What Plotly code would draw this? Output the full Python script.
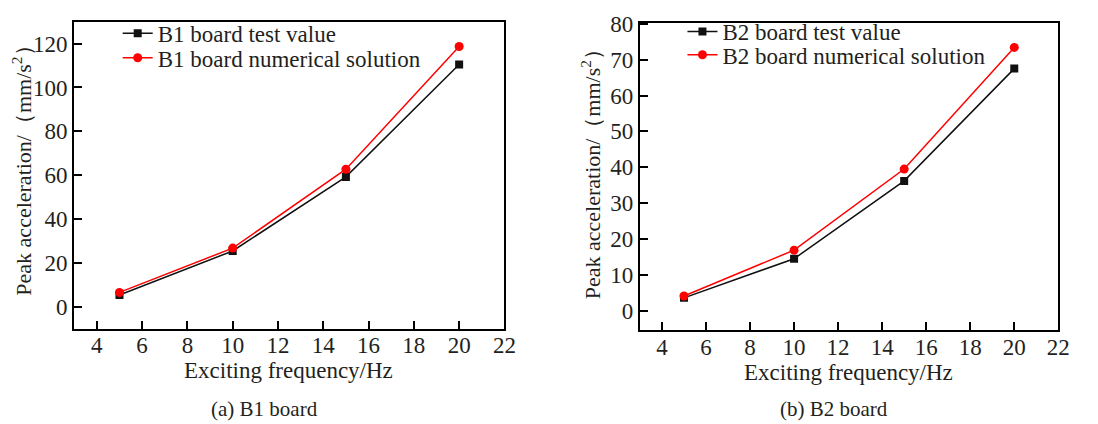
import plotly.graph_objects as go

freq = [5, 10, 15, 20]
b1_test = [5.3, 25.4, 59.2, 110.5]
b1_num = [6.5, 26.7, 62.7, 118.7]
b2_test = [3.6, 14.5, 36.2, 67.5]
b2_num = [4.1, 16.9, 39.5, 73.4]

x_ticks = [4, 6, 8, 10, 12, 14, 16, 18, 20, 22]
y1_ticks = [0, 20, 40, 60, 80, 100, 120]
y2_ticks = [0, 10, 20, 30, 40, 50, 60, 70, 80]

FONT = "Liberation Serif"
TXT = "#231f20"
W, H = 1098, 424


def px(v):
    return v / W


def py(v):
    return 1 - v / H


fig = go.Figure()


def add_pair(test, num, xa, ya, name, leg_a, leg_b):
    fig.add_trace(go.Scatter(x=freq, y=test, mode="lines+markers", name=f"{name} board test value",
                             line=dict(color="#111111", width=1.5),
                             marker=dict(symbol="square", size=8, color="#111111"),
                             xaxis=xa, yaxis=ya, legend=leg_a, showlegend=True))
    fig.add_trace(go.Scatter(x=freq, y=num, mode="lines+markers", name=f"{name} board numerical solution",
                             line=dict(color="#ff0000", width=1.5),
                             marker=dict(symbol="circle", size=9, color="#ff0000"),
                             xaxis=xa, yaxis=ya, legend=leg_b, showlegend=True))


add_pair(b1_test, b1_num, "x", "y", "B1", "legend", "legend2")
add_pair(b2_test, b2_num, "x2", "y2", "B2", "legend3", "legend4")

axis_common = dict(showgrid=False, zeroline=False, showline=True, linecolor="black", linewidth=2,
                   mirror=True, ticks="inside", ticklen=8, tickwidth=2, tickcolor="black",
                   tickfont=dict(family=FONT, size=23, color=TXT))

ytitle = "Peak acceleration/（mm/s<sup>2</sup>）"
xtitle = "Exciting frequency/Hz"


def leg(x, y):
    return dict(x=px(x), y=py(y), xanchor="left", yanchor="middle", bgcolor="rgba(0,0,0,0)",
                font=dict(family=FONT, size=23, color=TXT), visible=True)


def note(text, x, y, size=23, angle=0):
    return dict(text=text, x=px(x), y=py(y), xref="paper", yref="paper", xanchor="center",
                yanchor="middle", showarrow=False, textangle=angle,
                font=dict(family=FONT, size=size, color=TXT))


fig.update_layout(
    width=W, height=H, margin=dict(l=0, r=0, t=0, b=0),
    paper_bgcolor="white", plot_bgcolor="white", showlegend=True,
    font=dict(family=FONT, size=23, color=TXT),
    xaxis=dict(domain=[px(75), px(510)], range=[3, 22], tickvals=x_ticks, anchor="y",
               ticklabelstandoff=-5, **axis_common),
    yaxis=dict(domain=[py(326), py(11)], range=[-10, 130], tickvals=y1_ticks, anchor="x", **axis_common),
    xaxis2=dict(domain=[px(647), px(1070)], range=[3, 22], tickvals=x_ticks, anchor="y2",
                ticklabelstandoff=-5, **axis_common),
    yaxis2=dict(domain=[py(328), py(12)], range=[-5.5, 80.3], tickvals=y2_ticks, anchor="x2", **axis_common),
    legend=leg(119, 23),
    legend2=leg(119, 48),
    legend3=leg(690, 21),
    legend4=leg(690, 45),
    annotations=[
        note(xtitle, 292, 369),
        note(xtitle, 858, 371),
        note(ytitle, 22, 158, size=22, angle=-90),
        note(ytitle, 597, 162, size=22, angle=-90),
        note("(a) B1 board", 267, 409, size=21),
        note("(b) B2 board", 843, 409, size=21),
    ],
)

fig.write_html("out.html", config={"displayModeBar": False},
               post_script="document.body.style.margin='0';")
